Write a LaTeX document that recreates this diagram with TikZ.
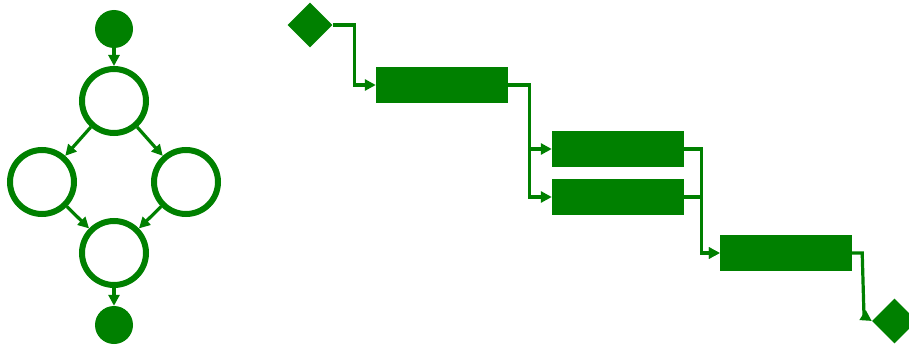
\documentclass[tikz,border=0pt]{standalone}
\usetikzlibrary{arrows.meta,shapes.geometric}
\definecolor{gr}{HTML}{008000}
\begin{document}
\begin{tikzpicture}[x=1pt,y=-1pt,
  dot/.style={circle,fill=gr,draw=none,minimum size=38pt,inner sep=0pt},
  ring/.style={circle,draw=gr,line width=6pt,fill=white,minimum size=64pt,inner sep=0pt},
  bar/.style={rectangle,fill=gr,draw=none,minimum width=132pt,minimum height=36pt,inner sep=0pt},
  dia/.style={diamond,fill=gr,draw=none,minimum width=45pt,minimum height=45pt,inner sep=0pt},
  arr/.style={draw=gr,line width=3.2pt,-{Triangle[length=11pt,width=11pt]}},
  flow/.style={draw=gr,line width=3.2pt,-{Triangle[length=11pt,width=11pt]}}]
\useasboundingbox (0,0) rectangle (909,345);
% left graph
\node[dot] (s) at (114,29) {};
\node[ring] (c1) at (114,101) {};
\node[ring] (cl) at (42,182) {};
\node[ring] (cr) at (186,182) {};
\node[ring] (c4) at (114,253) {};
\node[dot] (e) at (114,325) {};
\draw[arr] (s) -- (c1);
\draw[arr] (c1) -- (cl);
\draw[arr] (c1) -- (cr);
\draw[arr] (cl) -- (c4);
\draw[arr] (cr) -- (c4);
\draw[arr] (c4) -- (e);
% right flow
\node[dia] (d1) at (310,25) {};
\node[bar] (b1) at (442,85) {};
\node[bar] (b2) at (618,149) {};
\node[bar] (b3) at (618,197) {};
\node[bar] (b4) at (786,253) {};
\node[dia] (d2) at (894.5,321) {};
\draw[flow] (d1.east) -- ++(22,0) |- (b1.west);
\draw[flow] (b1.east) -- ++(21,0) |- (b2.west);
\draw[flow] (b1.east) -- ++(21,0) |- (b3.west);
\draw[flow] (b2.east) -- ++(17,0) |- (b4.west);
\draw[flow] (b3.east) -- ++(17,0) |- (b4.west);
\coordinate (k) at (864,316);
\draw[flow] (b4.east) -- ++(10,0) -- (k) -- (d2.west);
\end{tikzpicture}
\end{document}
